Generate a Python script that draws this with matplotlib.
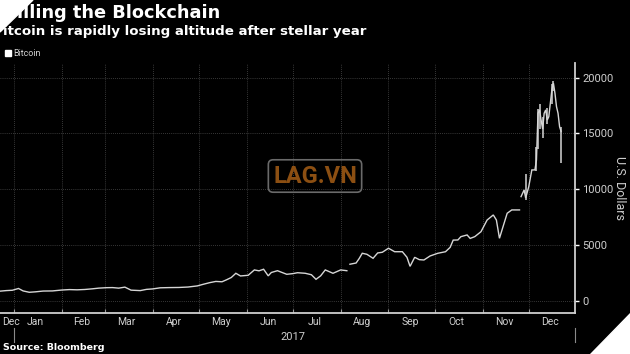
import matplotlib
matplotlib.use("Agg")
import matplotlib.pyplot as plt
import matplotlib.dates as mdates
import matplotlib.transforms as mtrans
from matplotlib import font_manager
from matplotlib.patches import Polygon, Rectangle
import pandas as pd

# font: narrow face if present
names = {f.name for f in font_manager.fontManager.ttflist}
NARROW = 'Liberation Sans Narrow' if 'Liberation Sans Narrow' in names else 'Roboto'

# Bitcoin, USD
dates = ['2016-12-23', '2016-12-27', '2016-12-31', '2017-01-04', '2017-01-07', '2017-01-11',
         '2017-01-15', '2017-01-20', '2017-01-26', '2017-02-01', '2017-02-06', '2017-02-11',
         '2017-02-16', '2017-02-21', '2017-02-25', '2017-03-02', '2017-03-06', '2017-03-10',
         '2017-03-14', '2017-03-18', '2017-03-24', '2017-03-28', '2017-04-01', '2017-04-06',
         '2017-04-12', '2017-04-18', '2017-04-24', '2017-04-30', '2017-05-04', '2017-05-08',
         '2017-05-12', '2017-05-16', '2017-05-19', '2017-05-22', '2017-05-25', '2017-05-28',
         '2017-06-02', '2017-06-06', '2017-06-09', '2017-06-12', '2017-06-15', '2017-06-17',
         '2017-06-21', '2017-06-24', '2017-06-27', '2017-07-01', '2017-07-04', '2017-07-09',
         '2017-07-13', '2017-07-16', '2017-07-19', '2017-07-22', '2017-07-27', '2017-08-01',
         '2017-08-05', '2017-08-07', '2017-08-11', '2017-08-13', '2017-08-15', '2017-08-18',
         '2017-08-22', '2017-08-25', '2017-08-28', '2017-09-01', '2017-09-05', '2017-09-10',
         '2017-09-13', '2017-09-15', '2017-09-18', '2017-09-21', '2017-09-24', '2017-09-28',
         '2017-10-03', '2017-10-08', '2017-10-11', '2017-10-13', '2017-10-16', '2017-10-18',
         '2017-10-22', '2017-10-24', '2017-10-27', '2017-10-31', '2017-11-04', '2017-11-08',
         '2017-11-10', '2017-11-12', '2017-11-14', '2017-11-17', '2017-11-20', '2017-11-25',
         '2017-11-26', '2017-11-28', '2017-11-29', '2017-12-01', '2017-12-03', '2017-12-05',
         '2017-12-06', '2017-12-07', '2017-12-08', '2017-12-09', '2017-12-10', '2017-12-11',
         '2017-12-12', '2017-12-13', '2017-12-14', '2017-12-15', '2017-12-16', '2017-12-17',
         '2017-12-18', '2017-12-19', '2017-12-20', '2017-12-21', '2017-12-22']
price = [880, 930, 960, 1120, 900, 780,
         820, 890, 900, 980, 1020, 1000,
         1030, 1090, 1150, 1190, 1200, 1150,
         1240, 970, 930, 1040, 1080, 1180,
         1200, 1210, 1250, 1350, 1500, 1640,
         1750, 1720, 1900, 2100, 2480, 2240,
         2300, 2780, 2700, 2840, 2250, 2550,
         2710, 2550, 2390, 2450, 2530, 2480,
         2350, 1940, 2250, 2780, 2480, 2780,
         2710, 3290, 3400, 3800, 4270, 4180,
         3820, 4300, 4360, 4720, 4410, 4410,
         3910, 3100, 3910, 3700, 3670, 4030,
         4270, 4410, 4800, 5450, 5460, 5760,
         5910, 5600, 5760, 6200, 7250, 7700,
         7250, 5610, 6510, 7850, 8150, 8150,
         9340, 9940, 9220, 10230, 11730, 11730,
         12620, 16800, 17100, 16200, 15400, 16800,
         17100, 16200, 16500, 17700, 18890, 19490,
         18590, 17390, 16800, 15600, 15160]
gap_after = ['2017-08-05', '2017-11-25']

# daily high/low bars in the late run-up
bar_dates = ['2017-11-29', '2017-12-06', '2017-12-07', '2017-12-08', '2017-12-10',
             '2017-12-13', '2017-12-16', '2017-12-17', '2017-12-22']
bar_hi = [11400, 13800, 17200, 17600, 16500, 17300, 19400, 19700, 15600]
bar_lo = [9000, 11600, 13600, 15400, 14600, 15800, 17600, 18800, 12330]

yticks = [0, 5000, 10000, 15000, 20000]
month_lbl_dates = ['2016-12-30', '2017-01-15', '2017-02-14', '2017-03-15', '2017-04-15',
                   '2017-05-15', '2017-06-15', '2017-07-15', '2017-08-15', '2017-09-15',
                   '2017-10-15', '2017-11-15', '2017-12-15']
month_lbls = ['Dec', 'Jan', 'Feb', 'Mar', 'Apr', 'May', 'Jun', 'Jul', 'Aug', 'Sep',
              'Oct', 'Nov', 'Dec']

W, H = 630, 354
LINE = '#d6d6d6'
TXT = '#cfcfcf'

fig = plt.figure(figsize=(W / 100, H / 100), dpi=100, facecolor='black')
ax = fig.add_axes([0, 1 - 313 / H, 575 / W, (313 - 63) / H])
ax.set_facecolor('black')

d = pd.to_datetime(pd.Series(dates))
p = pd.Series(price, dtype=float)
cuts = [0] + [int(d[d == pd.Timestamp(g)].index[0]) + 1 for g in gap_after] + [len(d)]
for a, b in zip(cuts[:-1], cuts[1:]):
    ax.plot(d[a:b], p[a:b], color=LINE, lw=1.0, solid_joinstyle='miter')
ax.vlines(pd.to_datetime(bar_dates), bar_lo, bar_hi, color=LINE, lw=1.1)

ax.set_xlim(pd.Timestamp('2016-12-23'), pd.Timestamp('2017-12-31'))
ax.set_ylim(-1075, 21300)

ax.xaxis.set_major_locator(mdates.MonthLocator())
ax.xaxis.set_major_formatter(plt.NullFormatter())
ax.set_xticks(pd.to_datetime(month_lbl_dates), month_lbls, minor=True)
ax.tick_params(axis='x', which='major', direction='in', length=3, color='#999999')
ax.tick_params(axis='x', which='minor', length=0, labelsize=7.5, labelcolor=TXT, pad=3)
for t in ax.get_xticklabels(minor=True):
    t.set_family(NARROW)

ax.yaxis.tick_right()
ax.set_yticks(yticks)
ax.tick_params(axis='y', direction='out', length=3, width=1, color='white',
               labelsize=8, labelcolor=TXT, pad=2)
for t in ax.get_yticklabels():
    t.set_family(NARROW)

ax.grid(True, which='major', color='#4a4a4a', ls=(0, (1, 1.5)), lw=0.6)
for s in ['top', 'left']:
    ax.spines[s].set_visible(False)
for s in ['right', 'bottom']:
    ax.spines[s].set_color('#cfcfcf')
    ax.spines[s].set_linewidth(1.3)

# year band under the month labels
tr = mtrans.blended_transform_factory(ax.transData, ax.transAxes)
for x in ['2017-01-01', '2017-12-31']:
    xd = pd.Timestamp(x)
    ax.plot([xd, xd], [-0.06, -0.116], transform=tr, color='#8a8a8a', lw=0.8, clip_on=False)
ax.text(pd.Timestamp('2017-07-01'), -0.095, '2017', transform=tr, ha='center', va='center',
        color=TXT, fontsize=8, family=NARROW)

fig.text(620 / W, 1 - 188 / H, 'U.S. Dollars', rotation=270, ha='center',
         va='center', color=TXT, fontsize=9, family=NARROW)

# headings (the picture is cropped on the left, so only the visible part is shown)
fig.text(17 / W, 1 - 18.3 / H, 'illing the Blockchain', ha='left', va='baseline',
         color='white', fontsize=12.8, fontweight='bold')
fig.text(3 / W, 1 - 35 / H, 'itcoin is rapidly losing altitude after stellar year',
         ha='left', va='baseline', color='white', fontsize=9.6, fontweight='bold')
fig.add_artist(Rectangle((5 / W, 1 - 56 / H), 6 / W, 6 / H, transform=fig.transFigure,
                         color='white'))
fig.text(13 / W, 1 - 53 / H, 'Bitcoin', ha='left', va='center', color=TXT, fontsize=6.5,
         family=NARROW)
fig.text(3 / W, 1 - 348 / H, 'Source: Bloomberg', ha='left', va='center', color='white',
         fontsize=6.8, fontweight='bold')

# watermark
fig.text(315 / W, 1 - 176 / H, 'LAG.VN', ha='center', va='center', color='#8c4f12',
         fontsize=17, fontweight='bold', family=NARROW,
         bbox=dict(boxstyle='round,pad=0.2', fc='none', ec='#6a6a6a', lw=1.2))

# white cut corners of the picture
fig.add_artist(Polygon([(0, 1), (33 / W, 1), (0, 1 - 32 / H)], closed=True,
                       transform=fig.transFigure, color='white', zorder=20))
fig.add_artist(Polygon([(590 / W, 0), (1, 0), (1, 41 / H)], closed=True,
                       transform=fig.transFigure, color='white', zorder=20))

fig.savefig('out.png', dpi=100, facecolor='black')
